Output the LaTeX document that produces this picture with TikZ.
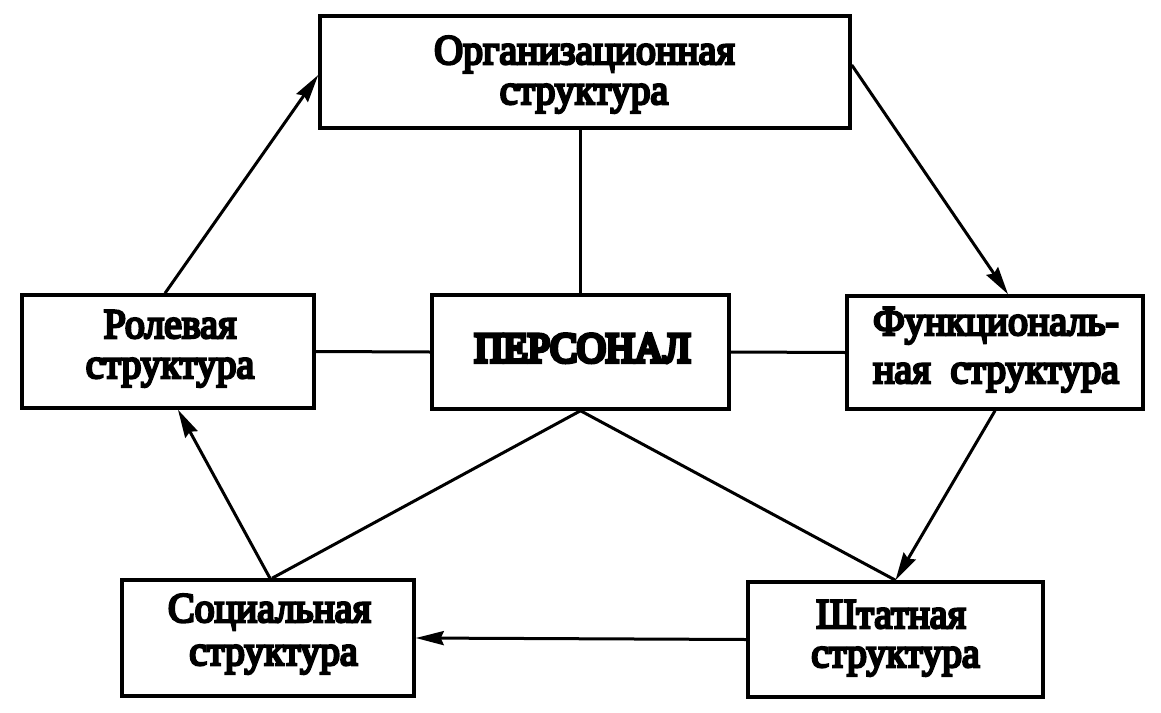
\documentclass[tikz,border=0pt]{standalone}
\usepackage{fontspec}
\setmainfont{Liberation Serif}
\newfontfamily\txtfont{Liberation Serif}[FakeStretch=0.95,FakeBold=6]
\newfontfamily\persfont{Liberation Serif}[FakeStretch=0.95,FakeBold=10]
\usetikzlibrary{arrows.meta}
\tikzset{
  box/.style={draw, line width=3.5pt, rectangle, inner sep=0pt},
  txt/.style={inner sep=0pt, anchor=base, font=\txtfont\fontsize{42}{42}\selectfont},
  perstxt/.style={inner sep=0pt, anchor=base, font=\persfont\fontsize{42}{42}\selectfont},
  link/.style={line width=3pt},
  flow/.style={line width=3pt, -{Stealth[length=28pt,width=14pt,inset=3pt]}},
}
\begin{document}
\begin{tikzpicture}[x=1pt,y=-1pt]
\useasboundingbox[fill=white] (0,0) rectangle (1161,712);
\node[box, minimum width=530pt, minimum height=112pt] (org) at (585,72) {};
\node[box, minimum width=292pt, minimum height=113pt] (role) at (168,351.5) {};
\node[box, minimum width=297pt, minimum height=114pt] (pers) at (580.5,352) {};
\node[box, minimum width=296pt, minimum height=113pt] (func) at (995,352.5) {};
\node[box, minimum width=292pt, minimum height=116pt] (soc) at (268,638) {};
\node[box, minimum width=295pt, minimum height=115pt] (sht) at (895.5,639.5) {};

\node[txt] (orgA) at (584.5,64) {Организационная};
\node[txt] (orgB) at (584,104) {структура};
\node[txt] (roleA) at (170,338) {Ролевая};
\node[txt] (roleB) at (170,378) {структура};
\node[perstxt] (persA) at (582.5,362) {ПЕРСОНАЛ};
\node[txt] (funcA) at (996,335) {Функциональ-};
\node[txt] (funcB) at (996,383) {ная\ \ структура};
\node[txt] (socA) at (269.5,622) {Социальная};
\node[txt] (socB) at (273.5,665) {структура};
\node[txt] (shtA) at (891,628) {Штатная};
\node[txt] (shtB) at (895.5,667) {структура};

\draw[link] (pers.north) -- (pers.north |- org.south);
\draw[link] (role.east) -- (pers.west);
\draw[link] (pers.east) -- (func.west);
\draw[link] (pers.south) -- ([xshift=4pt]soc.north);
\draw[link] (pers.south) -- (sht.north);

\draw[flow] ([xshift=-3pt]role.north) -- ([yshift=-3pt]org.west);
\draw[flow] ([yshift=7pt]org.east) -- ([xshift=13pt]func.north);
\draw[flow] (func.south) -- (sht.north);
\draw[flow] (sht.west) -- (soc.east);
\draw[flow] ([xshift=2pt]soc.north) -- ([xshift=10pt]role.south);
\end{tikzpicture}
\end{document}
